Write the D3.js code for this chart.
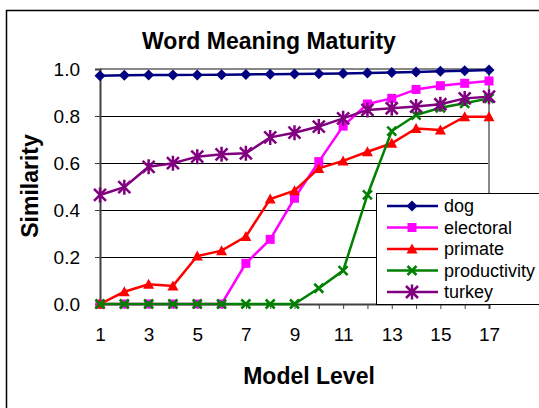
<!DOCTYPE html>
<html lang="en">
<head>
<meta charset="UTF-8">
<title>Word Meaning Maturity</title>
<script src="https://d3js.org/d3.v7.min.js"></script>
<style>
  body { margin: 0; background: #fff; font-family: Arial, "Liberation Sans", sans-serif; }
  svg { display: block; }
</style>
</head>
<body>
<svg id="chart"></svg>
<script>
const W = 539, H = 408;

// model levels 1..17
const levels = d3.range(1, 18);
const dog          = [0.971, 0.973, 0.974, 0.974, 0.975, 0.976, 0.977, 0.978, 0.979, 0.980, 0.981, 0.983, 0.985, 0.987, 0.990, 0.993, 0.996];
const electoral    = [0, 0, 0, 0, 0, 0, 0.173, 0.275, 0.450, 0.606, 0.757, 0.851, 0.875, 0.913, 0.929, 0.939, 0.949];
const primate      = [0, 0.052, 0.084, 0.077, 0.204, 0.227, 0.287, 0.447, 0.482, 0.577, 0.609, 0.648, 0.684, 0.747, 0.740, 0.797, 0.797];
const productivity = [0, 0, 0, 0, 0, 0, 0, 0, 0, 0.067, 0.142, 0.464, 0.736, 0.804, 0.835, 0.854, 0.875];
const turkey       = [0.464, 0.497, 0.584, 0.599, 0.627, 0.637, 0.641, 0.709, 0.729, 0.755, 0.790, 0.826, 0.833, 0.840, 0.850, 0.875, 0.882];
const yTicks = [0, 0.2, 0.4, 0.6, 0.8, 1.0];

const series = [
  { name: "dog",          values: dog,          color: "#000080", marker: "diamond" },
  { name: "electoral",    values: electoral,    color: "#ff00ff", marker: "square" },
  { name: "primate",      values: primate,      color: "#ff0000", marker: "triangle" },
  { name: "productivity", values: productivity, color: "#008000", marker: "cross" },
  { name: "turkey",       values: turkey,       color: "#800080", marker: "star" }
];

const svg = d3.select("#chart").attr("width", W).attr("height", H);

// outer chart border (runs off the right and bottom)
svg.append("rect")
  .attr("x", 6.5).attr("y", 10.5).attr("width", 600).attr("height", 500)
  .attr("fill", "#fff").attr("stroke", "#000").attr("stroke-width", 1.5);

const x = d3.scaleLinear().domain([1, 17]).range([100, 489]);
const y = d3.scaleLinear().domain([0, 1]).range([304, 69]);

// gridlines
svg.append("g").selectAll("line")
  .data(yTicks.filter(d => d > 0 && d < 1))
  .join("line")
  .attr("x1", x(1)).attr("x2", x(17))
  .attr("y1", d => y(d) + 0.5).attr("y2", d => y(d) + 0.5)
  .attr("stroke", "#000").attr("stroke-width", 1);

// plot area border, top and right in grey
svg.append("path")
  .attr("d", `M${x(1)},${y(1)}H${x(17)}V${y(0)}`)
  .attr("fill", "none").attr("stroke", "#888").attr("stroke-width", 2);

// y axis
const yAxis = svg.append("g")
  .attr("transform", `translate(${x(1)},0)`)
  .call(d3.axisLeft(y).tickValues(yTicks).tickFormat(d3.format(".1f")).tickSize(5).tickPadding(15));
yAxis.select(".domain").attr("stroke", "#404040").attr("stroke-width", 2);
yAxis.selectAll(".tick line").attr("stroke", "#404040");
yAxis.selectAll("text").attr("font-size", 19).attr("fill", "#000")
  .attr("font-family", "Arial, 'Liberation Sans', sans-serif");

// x axis
const xAxis = svg.append("g")
  .attr("transform", `translate(0,${y(0)})`)
  .call(d3.axisBottom(x).tickValues(levels)
    .tickFormat(d => d % 2 === 1 ? d : "").tickSize(5).tickPadding(19));
xAxis.select(".domain").attr("stroke", "#404040").attr("stroke-width", 2);
xAxis.selectAll(".tick line").attr("stroke", "#404040");
xAxis.selectAll("text").attr("font-size", 19).attr("fill", "#000")
  .attr("font-family", "Arial, 'Liberation Sans', sans-serif");

// markers
function marker(g, type, color) {
  if (type === "diamond") {
    g.append("path").attr("d", "M0,-5.5L5.5,0L0,5.5L-5.5,0Z").attr("fill", color);
  } else if (type === "square") {
    g.append("rect").attr("x", -4.5).attr("y", -4.5).attr("width", 9).attr("height", 9).attr("fill", color);
  } else if (type === "triangle") {
    g.append("path").attr("d", "M0,-5.5L5.5,4.5L-5.5,4.5Z").attr("fill", color);
  } else if (type === "cross") {
    g.append("path").attr("d", "M-4.5,-4.5L4.5,4.5M-4.5,4.5L4.5,-4.5")
      .attr("stroke", color).attr("stroke-width", 2.5).attr("fill", "none");
  } else if (type === "star") {
    g.append("path").attr("d", "M-6,-6L6,6M-6,6L6,-6M0,-7.5L0,7.5")
      .attr("stroke", color).attr("stroke-width", 2.5).attr("fill", "none");
  }
}

const line = d3.line().x((d, i) => x(levels[i])).y(d => y(d));

series.forEach(s => {
  const g = svg.append("g");
  g.append("path").datum(s.values)
    .attr("d", line)
    .attr("fill", "none").attr("stroke", s.color).attr("stroke-width", 2.5);
  s.values.forEach((v, i) => {
    marker(g.append("g").attr("transform", `translate(${x(levels[i])},${y(v)})`), s.marker, s.color);
  });
});

// legend
const leg = svg.append("g");
leg.append("rect")
  .attr("x", 376.5).attr("y", 193.5).attr("width", 170).attr("height", 111)
  .attr("fill", "#fff").attr("stroke", "#000").attr("stroke-width", 1);
series.forEach((s, i) => {
  const ly = 206 + i * 21.5;
  leg.append("line").attr("x1", 387).attr("x2", 438).attr("y1", ly).attr("y2", ly)
    .attr("stroke", s.color).attr("stroke-width", 2.5);
  marker(leg.append("g").attr("transform", `translate(412,${ly})`), s.marker, s.color);
  leg.append("text").attr("x", 444).attr("y", ly).attr("dy", "0.35em")
    .attr("font-size", 18).text(s.name);
});

// titles
svg.append("text").attr("x", 269).attr("y", 49).attr("text-anchor", "middle")
  .attr("font-size", 23).attr("font-weight", "bold").text("Word Meaning Maturity");
svg.append("text").attr("x", 309).attr("y", 384).attr("text-anchor", "middle")
  .attr("font-size", 23).attr("font-weight", "bold").text("Model Level");
svg.append("text").attr("transform", "translate(38,186) rotate(-90)").attr("text-anchor", "middle")
  .attr("font-size", 23).attr("font-weight", "bold").text("Similarity");
</script>
</body>
</html>
